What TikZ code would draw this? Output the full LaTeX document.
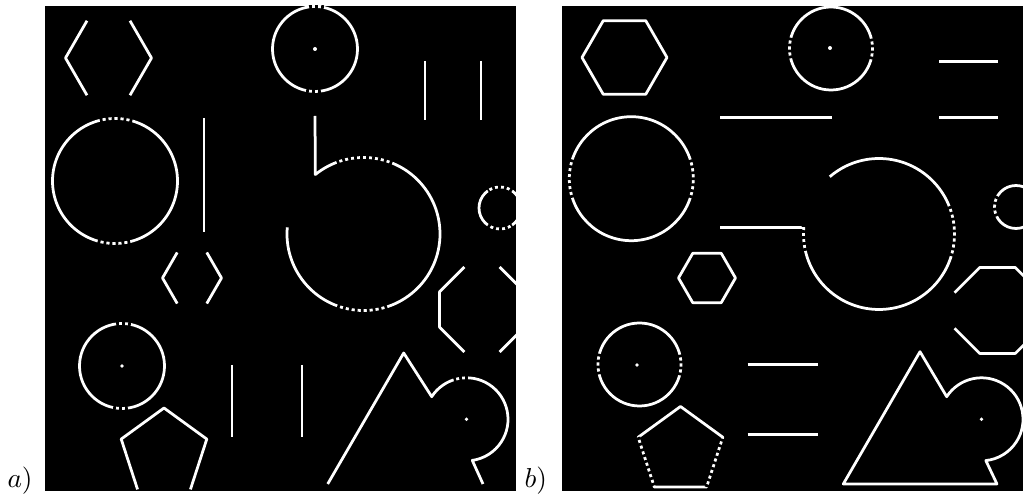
\documentclass[tikz,border=0pt]{standalone}
\usepackage{tikz}
\begin{document}
\begin{tikzpicture}[x=0.4pt, y=0.4pt,
        panel/.style={fill=black},
        stroke/.style={draw=white, line width=1.1pt, line join=round},
        gaps/.style={draw=black, line width=1.7pt, dash pattern=on 1.1pt off 1.3pt},
        spot/.style={fill=white},
        tag/.style={anchor=base west, inner sep=0pt, font=\fontsize{11}{13}\selectfont}]
    \useasboundingbox (0,0) rectangle (1023,500);
    \fill[white] (0,0) rectangle (1023,500);
    \fill[panel] (45,9) rectangle (516,494);
    \fill[panel] (562,9) rectangle (1023,494);

    % panel a
    \begin{scope}
        \clip (45,9) rectangle (516,494);
        \begin{scope}[shift={(108.5,442)}]
            \draw[stroke] (120:43) -- (180:43) -- (240:43);
            \draw[stroke] (60:43) -- (0:43) -- (-60:43);
        \end{scope}
        \coordinate (ctopa) at (315,451);
        \draw[stroke] (ctopa) circle[radius=42.5];
        \foreach \a in {90,270}
            \draw[gaps] ([shift={(ctopa)}]\a-12:42.5) arc[start angle=\a-12, end angle=\a+12, radius=42.5];
        \fill[spot] (ctopa) circle[radius=2];
        \draw[stroke] (425,439) -- (425,380);
        \draw[stroke] (481,439) -- (481,380);

        \coordinate (cbiga) at (115,319);
        \draw[stroke] (cbiga) circle[radius=62.5];
        \foreach \a in {90,270}
            \draw[gaps] ([shift={(cbiga)}]\a-16:62.5) arc[start angle=\a-16, end angle=\a+16, radius=62.5];
        \draw[stroke] (204,382) -- (204,268);

        \coordinate (carca) at (363.5,266);
        \draw[stroke] (315,384) -- ([shift={(carca)}]129:76.5) arc[start angle=129, end angle=-185, radius=76.5];
        \draw[gaps] ([shift={(carca)}]68:76.5) arc[start angle=68, end angle=112, radius=76.5];
        \draw[gaps] ([shift={(carca)}]250:76.5) arc[start angle=250, end angle=290, radius=76.5];

        \coordinate (csmalla) at (500,292);
        \draw[stroke] (csmalla) circle[radius=21];
        \foreach \a in {90,270}
            \draw[gaps] ([shift={(csmalla)}]\a-35:21) arc[start angle=\a-35, end angle=\a+35, radius=21];

        \begin{scope}[shift={(192,222)}]
            \draw[stroke] (120:29.5) -- (180:29.5) -- (240:29.5);
            \draw[stroke] (60:29.5) -- (0:29.5) -- (-60:29.5);
        \end{scope}
        \begin{scope}[shift={(482,190.5)}]
            \draw[stroke] (22.5:46) -- (67.5:46);
            \draw[stroke] (112.5:46) -- (157.5:46) -- (202.5:46) -- (247.5:46);
            \draw[stroke] (292.5:46) -- (337.5:46) -- (382.5:46);
        \end{scope}

        \coordinate (cdota) at (122,134);
        \draw[stroke] (cdota) circle[radius=42.5];
        \foreach \a in {90,270}
            \draw[gaps] ([shift={(cdota)}]\a-12:42.5) arc[start angle=\a-12, end angle=\a+12, radius=42.5];
        \fill[spot] (cdota) circle[radius=1.8];
        \begin{scope}[shift={(164,47)}]
            \draw[stroke] (234:45) -- (162:45) -- (90:45) -- (18:45) -- (306:45);
        \end{scope}
        \draw[stroke] (232,135) -- (232,62.5);
        \draw[stroke] (302,135) -- (302,62.5);

        \draw[stroke] (327.7,16) -- (403.7,147) -- (431.7,103.3)
            arc[start angle=147, end angle=-82, radius=41.5] -- (483,16);
        \draw[gaps] ([shift={(466.5,80.7)}]88:41.5) arc[start angle=88, end angle=108, radius=41.5];
        \fill[spot] (466.5,80.7) circle[radius=1.8];
    \end{scope}

    % panel b
    \begin{scope}
        \clip (562,9) rectangle (1023,494);
        \begin{scope}[shift={(624.5,442.5)}]
            \draw[stroke] (0:42.5) -- (60:42.5) -- (120:42.5) -- (180:42.5) -- (240:42.5) -- (300:42.5) -- cycle;
        \end{scope}
        \coordinate (ctopb) at (831,451.5);
        \draw[stroke] (ctopb) circle[radius=41.5];
        \foreach \a in {0,180}
            \draw[gaps] ([shift={(ctopb)}]\a-15:41.5) arc[start angle=\a-15, end angle=\a+15, radius=41.5];
        \fill[spot] (830,452) circle[radius=2];
        \draw[stroke] (939,438.3) -- (998.3,438.3);
        \draw[stroke] (939,382.3) -- (998.3,382.3);
        \draw[stroke] (720,382.7) -- (832,382.7);

        \coordinate (cbigb) at (631.3,321.3);
        \draw[stroke] (cbigb) circle[radius=62];
        \foreach \a in {0,180}
            \draw[gaps] ([shift={(cbigb)}]\a-18:62) arc[start angle=\a-18, end angle=\a+18, radius=62];

        \coordinate (carcb) at (879,266);
        \draw[stroke] ([shift={(carcb)}]130.7:75.5) arc[start angle=130.7, end angle=-185, radius=75.5] -- (720,272.6);
        \draw[gaps] ([shift={(carcb)}]-17:75.5) arc[start angle=-17, end angle=23, radius=75.5];
        \draw[gaps] ([shift={(carcb)}]168:75.5) arc[start angle=168, end angle=193, radius=75.5];

        \coordinate (csmallb) at (1016,293);
        \draw[stroke] (csmallb) circle[radius=21.5];
        \draw[gaps] ([shift={(csmallb)}]150:21.5) arc[start angle=150, end angle=210, radius=21.5];

        \begin{scope}[shift={(707,222)}]
            \draw[stroke] (0:28.5) -- (60:28.5) -- (120:28.5) -- (180:28.5) -- (240:28.5) -- (300:28.5) -- cycle;
        \end{scope}
        \begin{scope}[shift={(997.5,189.5)}]
            \draw[stroke] (202.5:46.5) -- (247.5:46.5) -- (292.5:46.5) -- (337.5:46.5) -- (382.5:46.5)
                -- (427.5:46.5) -- (472.5:46.5) -- (517.5:46.5);
        \end{scope}

        \coordinate (cdotb) at (639.5,135.5);
        \draw[stroke] (cdotb) circle[radius=41.5];
        \foreach \a in {0,180}
            \draw[gaps] ([shift={(cdotb)}]\a-15:41.5) arc[start angle=\a-15, end angle=\a+15, radius=41.5];
        \fill[spot] (637,135) circle[radius=1.8];
        \begin{scope}[shift={(680.5,49)}]
            \draw[stroke] (90:44.5) -- (162:44.5) -- (234:44.5) -- (306:44.5) -- (18:44.5) -- cycle;
            \draw[gaps] (162:44.5) -- (234:44.5);
            \draw[gaps] (306:44.5) -- (18:44.5);
        \end{scope}
        \draw[stroke] (747.7,135.7) -- (818.3,135.7);
        \draw[stroke] (747.7,65.7) -- (818.3,65.7);

        \draw[stroke] (843.3,16) -- (920,148.3) -- (946.7,103.3)
            arc[start angle=147, end angle=-84, radius=41.5] -- (997,16) -- cycle;
        \fill[spot] (981.5,80.7) circle[radius=1.8];
    \end{scope}

    \node[tag] (la) at (7,12) {$a)$};
    \node[tag] (lb) at (524,12) {$b)$};
\end{tikzpicture}
\end{document}
